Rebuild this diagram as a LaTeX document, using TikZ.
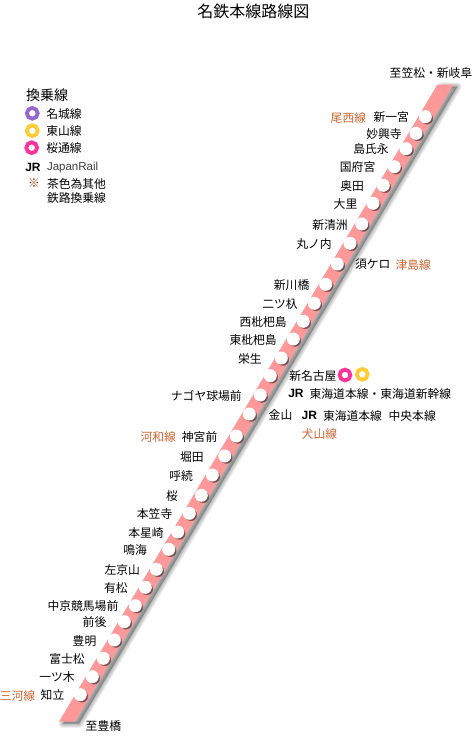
\documentclass[tikz,border=0pt]{standalone}
\usepackage{fontspec}
\setmainfont{Noto Sans CJK JP}
\newfontfamily\latinfont{Liberation Sans}
\usetikzlibrary{shadows,fadings,positioning}
\definecolor{bandred}{HTML}{FF9999}
\definecolor{linebrown}{HTML}{CC6633}
\definecolor{markbrown}{HTML}{993300}
\definecolor{ringpurple}{HTML}{9966CC}
\definecolor{ringyellow}{HTML}{FFCC33}
\definecolor{ringpink}{HTML}{FF3399}
\tikzstyle{sta}=[circle,fill=white,inner sep=0,outer sep=0,minimum size=13pt,general shadow={fill=black,opacity=.5,path fading=circle with fuzzy edge 20 percent,scale=1.3,shadow xshift=1.5pt,shadow yshift=-1.5pt}]
\tikzstyle{lbl}=[inner sep=0,outer sep=0,text=black,font=\fontsize{11.8}{14.7}\selectfont,yshift=-.6pt]
\tikzstyle{other}=[lbl,text=linebrown]
\tikzstyle{ring}=[circle,fill=white,inner sep=0,minimum size=10.8pt,line width=3.8pt]
\tikzstyle{jr}=[lbl,font=\fontsize{12}{14}\selectfont\latinfont\bfseries]
\begin{document}
\begin{tikzpicture}[x=1pt,y=-1pt]
\useasboundingbox (0,0) rectangle (473,741);
\node[lbl,font=\fontsize{16}{18}\selectfont] (title) at (253.3,10.7) {名鉄本線路線図};
% band
\coordinate (bandTL) at (437.3,84.7);
\coordinate (bandTR) at (453.3,84.7);
\coordinate (bandBR) at (75,721.7);
\coordinate (bandBL) at (59,721.7);
\coordinate (shadeTL) at (441.3,86.7);
\coordinate (shadeTR) at (457.3,86.7);
\coordinate (shadeBR) at (79,723.7);
\coordinate (shadeBL) at (63,723.7);
\foreach \w in {1,2,...,9} {
  \draw[black,opacity=.035,fill,line width=\w pt,line join=round] (shadeTL) -- (shadeTR) -- (shadeBR) -- (shadeBL) -- cycle;
}
\fill[bandred] (bandTL) -- (bandTR) -- (bandBR) -- (bandBL) -- cycle;
\node[lbl,anchor=east] (kasamatsu) at (472.3,72.7) {至笠松・新岐阜};
\node[lbl,anchor=west] (toyohashi) at (85.7,725) {至豊橋};
% stations
\node[sta] (s1) at (425.3,116.7) {};
\node[sta] (s2) at (416,133.3) {};
\node[sta] (s3) at (406,148.7) {};
\node[sta] (s4) at (394.3,166.7) {};
\node[sta] (s5) at (383.3,185.3) {};
\node[sta] (s6) at (373,203.3) {};
\node[sta] (s7) at (361.7,224) {};
\node[sta] (s8) at (350,243.3) {};
\node[sta] (s9) at (337.3,264) {};
\node[sta] (s10) at (325.7,284.3) {};
\node[sta] (s11) at (314.3,303.3) {};
\node[sta] (s12) at (303.3,321.3) {};
\node[sta] (s13) at (293.3,339) {};
\node[sta] (s14) at (281.3,358) {};
\node[sta] (s15) at (270.3,375.7) {};
\node[sta] (s16) at (260.3,395) {};
\node[sta] (s17) at (249.3,414) {};
\node[sta] (s18) at (236.3,436) {};
\node[sta] (s19) at (224.7,456) {};
\node[sta] (s20) at (212.3,475) {};
\node[sta] (s21) at (201.3,495.3) {};
\node[sta] (s22) at (189.3,513.3) {};
\node[sta] (s23) at (177.7,532) {};
\node[sta] (s24) at (168.7,549.3) {};
\node[sta] (s25) at (156.3,569.3) {};
\node[sta] (s26) at (145.3,587.3) {};
\node[sta] (s27) at (135.3,605.7) {};
\node[sta] (s28) at (124.3,621.7) {};
\node[sta] (s29) at (114.3,640) {};
\node[sta] (s30) at (103.3,658.3) {};
\node[sta] (s31) at (92.3,676.7) {};
\node[sta] (s32) at (80.3,694.7) {};
% station names
\node[lbl,left=9.8pt of s1] (n1) {新一宮};
\node[other,left=7.5pt of n1] (bisai) {尾西線};
\node[lbl,left=7.8pt of s2] (n2) {妙興寺};
\node[lbl,left=10.8pt of s3] (n3) {島氏永};
\node[lbl,left=12.5pt of s4] (n4) {国府宮};
\node[lbl,left=12.8pt of s5] (n5) {奥田};
\node[lbl,left=9.2pt of s6] (n6) {大里};
\node[lbl,left=7.5pt of s7] (n7) {新清洲};
\node[lbl,left=11.8pt of s8] (n8) {丸ノ内};
\node[lbl,right=11.2pt of s9] (n9) {須ケロ};
\node[other,right=5.2pt of n9] (tsushima) {津島線};
\node[lbl,left=9.9pt of s10] (n10) {新川橋};
\node[lbl,left=10.1pt of s11] (n11) {二ツ杁};
\node[lbl,left=10.1pt of s12] (n12) {西枇杷島};
\node[lbl,left=10.1pt of s13] (n13) {東枇杷島};
\node[lbl,left=13.1pt of s14] (n14) {栄生};
\node[lbl,right=12.5pt of s15] (n15) {新名古屋};
\node[ring,draw=ringpink] (r15a) at (345,375) {};
\node[ring,draw=ringyellow] (r15b) at (362.3,374.3) {};
\node[jr,anchor=west] (jr15) at (288.3,392.7) {JR};
\node[lbl,right=6pt of jr15] (tokaido) {東海道本線・東海道新幹線};
\node[lbl,left=12.1pt of s16] (n16) {ナゴヤ球場前};
\node[lbl,right=12.9pt of s17] (n17) {金山};
\node[jr,right=9.4pt of n17] (jr17) {JR};
\node[lbl,right=6pt of jr17] (tokaido2) {東海道本線};
\node[lbl,right=6.6pt of tokaido2] (chuo) {中央本線};
\node[other,anchor=west] (inuyama) at (301.7,433) {犬山線};
\node[lbl,left=12.5pt of s18] (n18) {神宮前};
\node[other,left=6pt of n18] (kowa) {河和線};
\node[lbl,left=14.5pt of s19] (n19) {堀田};
\node[lbl,left=12.8pt of s20] (n20) {呼続};
\node[lbl,left=16.8pt of s21] (n21) {桜};
\node[lbl,left=10.5pt of s22] (n22) {本笠寺};
\node[lbl,left=7.5pt of s23] (n23) {本星崎};
\node[lbl,left=15.2pt of s24] (n24) {鳴海};
\node[lbl,left=9.8pt of s25] (n25) {左京山};
\node[lbl,left=11.1pt of s26] (n26) {有松};
\node[lbl,left=10.5pt of s27] (n27) {中京競馬場前};
\node[lbl,left=11.5pt of s28] (n28) {前後};
\node[lbl,left=11.5pt of s29] (n29) {豊明};
\node[lbl,left=12.1pt of s30] (n30) {富士松};
\node[lbl,left=11.1pt of s31] (n31) {一ツ木};
\node[lbl,left=9.5pt of s32] (n32) {知立};
\node[other,left=5.4pt of n32] (mikawa) {三河線};
% legend
\node[lbl,anchor=west,font=\fontsize{14}{16}\selectfont] (legend) at (26,94.7) {換乗線};
\node[ring,draw=ringpurple] (r1) at (32.3,113.3) {};
\node[ring,draw=ringyellow] (r2) at (32.3,130.7) {};
\node[ring,draw=ringpink] (r3) at (31.7,147.7) {};
\node[lbl,right=6.7pt of r1] (meijo) {名城線};
\node[lbl,right=6.7pt of r2] (higashiyama) {東山線};
\node[lbl,right=7.3pt of r3] (sakuradori) {桜通線};
\node[jr,anchor=west] (jrkey) at (25.3,166.7) {JR};
\node[lbl,anchor=west,text=black!75,font=\fontsize{11.5}{14}\selectfont\latinfont] (japanrail) at (47,166.7) {JapanRail};
\node[lbl,text=markbrown] (mark) at (34,182.9) {※};
\node[lbl,anchor=west,align=left] (note) at (47,190.3) {茶色為其他\\鉄路換乗線};
\end{tikzpicture}
\end{document}
